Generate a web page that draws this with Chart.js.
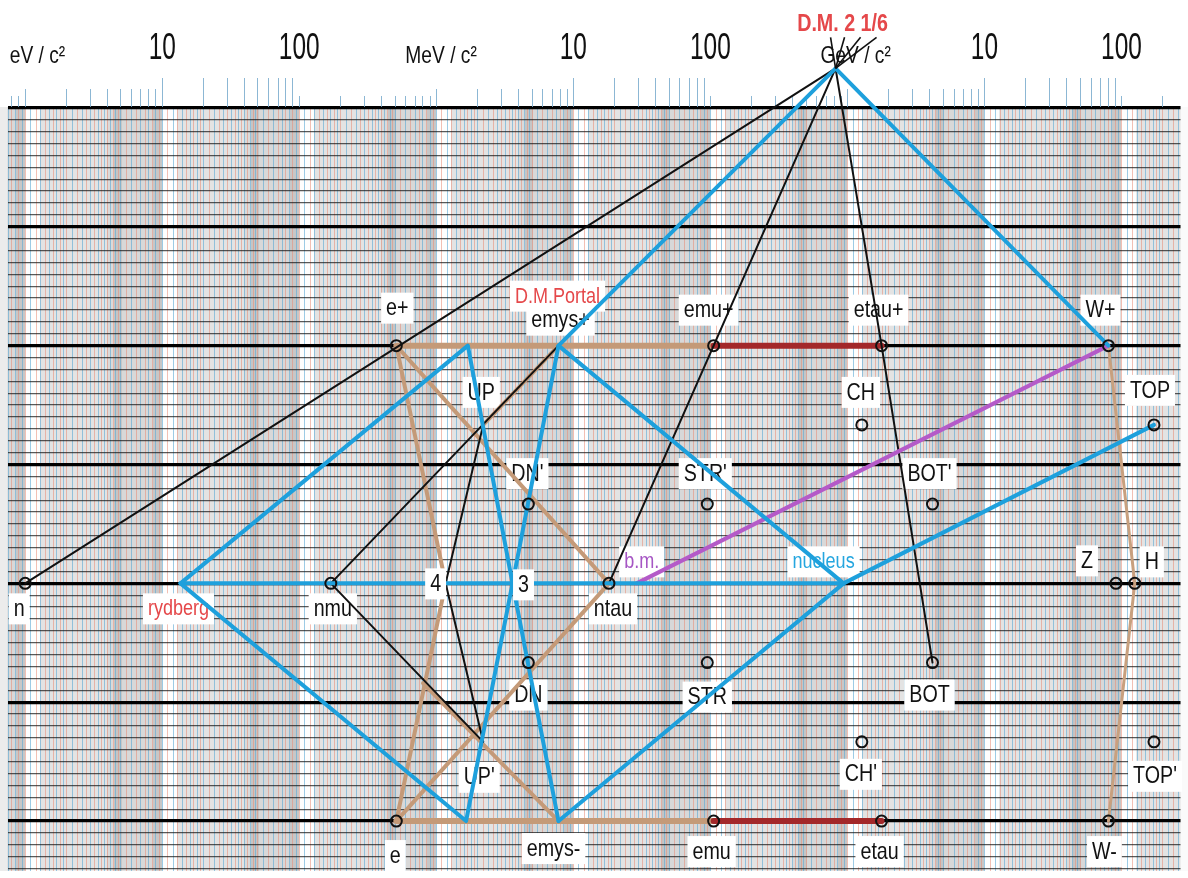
<!DOCTYPE html>
<html>
<head>
<meta charset="utf-8">
<script src="https://cdn.jsdelivr.net/npm/chart.js@4.4.1/dist/chart.umd.min.js"></script>
<style>
  html, body { margin: 0; padding: 0; background: #fff; }
  #wrap { width: 1188px; height: 878px; }
</style>
</head>
<body>
<div id="wrap"><canvas id="c" width="1188" height="878"></canvas></div>
<script>
// ---- particles: name, mass (MeV/c²), charge ----
const nodeNames  = ['D.M.', 'n', 'rydberg', 'nmu', '4', '3', 'ntau', 'b.m.', 'nucleus', 'Z', 'H',
                    'e+', 'emys+', 'emu+', 'etau+', 'W+',
                    'UP', 'CH', 'TOP', "DN'", "STR'", "BOT'",
                    'DN', 'STR', 'BOT', "UP'", "CH'", "TOP'",
                    'e', 'emys-', 'emu', 'etau', 'W-',
                    'v+', 'v-', 'j-'];
const nodeMass   = [820, 1e-6, 13.6e-6, 0.17, 1.17, 3.6, 18.2, 29, 938.3, 91188, 125100,
                    0.511, 7.8, 105.7, 1777, 80379,
                    2.2, 1275, 172760, 4.7, 95, 4180,
                    4.7, 95, 4180, 2.2, 1275, 172760,
                    0.511, 7.8, 105.7, 1777, 80379,
                    1.7, 1.65, 0.8];
const nodeCharge = [13 / 6, 0, 0, 0, 0, 0, 0, 0, 0, 0, 0,
                    1, 1, 1, 1, 1,
                    2 / 3, 2 / 3, 2 / 3, 1 / 3, 1 / 3, 1 / 3,
                    -1 / 3, -1 / 3, -1 / 3, -2 / 3, -2 / 3, -2 / 3,
                    -1, -1, -1, -1, -1,
                    1, -1, -0.42];

// ---- connections between particles ----
const blackPaths  = [['n', 'D.M.'], ['nmu', 'emys+', 'D.M.'], ['ntau', 'emu+', 'D.M.'], ['BOT', 'etau+', 'D.M.'],
                     ['UP', '4', "UP'"], ['nmu', "UP'"]];
const brownPaths  = [['e+', 'ntau'], ['e', 'ntau'], ['e+', '4', 'e'], ['emys+', 'UP'], ['emys-', 'j-']];
const brownRails  = [['e+', 'emys+', 'emu+'], ['e', 'emys-', 'emu']];
const brownThin   = [['W+', 'H', 'W-']];
const redPaths    = [['emu+', 'etau+'], ['emu', 'etau']];
const bluePaths   = [['D.M.', 'emys+'], ['D.M.', 'W+'], ['rydberg', 'v+', '3', 'emys-'], ['rydberg', 'v-', '3', 'emys+'],
                     ['rydberg', 'nucleus'], ['emys+', 'nucleus'], ['emys-', 'nucleus'], ['nucleus', 'TOP']];
const purplePaths = [['b.m.', 'W+']];
const circleNodes = ['n', 'nmu', 'ntau', 'e+', 'emu+', 'etau+', 'W+', 'CH', 'TOP', "DN'", "STR'", "BOT'",
                     'DN', 'STR', 'BOT', "CH'", "TOP'", 'e', 'emu', 'etau', 'W-', 'Z', 'H'];

// ---- text labels and the particle each one belongs to ----
const labelTexts   = ['e+', 'D.M.Portal', 'emys+', 'emu+', 'etau+', 'W+', 'UP', 'CH', 'TOP', "DN'", "STR'", "BOT'",
                      'n', 'rydberg', 'nmu', '4', '3', 'ntau', 'b.m.', 'nucleus', 'Z', 'H',
                      'DN', 'STR', 'BOT', "UP'", "CH'", "TOP'", 'e', 'emys-', 'emu', 'etau', 'W-', 'D.M. 2 1/6'];
const labelAnchors = ['e+', 'emys+', 'emys+', 'emu+', 'etau+', 'W+', 'UP', 'CH', 'TOP', "DN'", "STR'", "BOT'",
                      'n', 'rydberg', 'nmu', '4', '3', 'ntau', 'b.m.', 'nucleus', 'Z', 'H',
                      'DN', 'STR', 'BOT', "UP'", "CH'", "TOP'", 'e', 'emys-', 'emu', 'etau', 'W-', 'D.M.'];

// ---- mass axis tick labels ----
const topLabelText = ['eV / c²', '10', '100', 'MeV / c²', '10', '100', 'GeV / c²', '10', '100'];
const topLabelPos  = [0.09, 1, 2, 3.035, 4, 5, 6.06, 7, 8];

// ---------------------------------------------------------------------------
const FONT = '"Liberation Sans", Arial, sans-serif';
const NARROW = 0.82;               // horizontal squeeze for the condensed lettering
const X_MIN = -0.129, X_MAX = 8.431;
const Y_MIN = -1.208, Y_MAX = 2.004;

// label placement (pixel offsets from the particle) and colours
const labelStyle = {
  'e+': { off: [1, -38] }, 'D.M.Portal': { off: [-1, -50], color: '#e5484a', size: 22 }, 'emys+': { off: [2, -26] },
  'emu+': { off: [-5, -36] }, 'etau+': { off: [-3, -36] }, 'W+': { off: [-8, -36] },
  'UP': { off: [-2, -33] }, 'CH': { off: [-1, -33] }, 'TOP': { off: [-4, -35] },
  "DN'": { off: [-1, -31] }, "STR'": { off: [-2, -31] }, "BOT'": { off: [-3, -31] },
  'n': { off: [-6, 25] }, 'rydberg': { off: [-2, 25], color: '#e5484a', size: 22 }, 'nmu': { off: [2, 25] },
  '4': { off: [-10, 0], top: true }, '3': { off: [11, 1], top: true }, 'ntau': { off: [4, 25] },
  'b.m.': { off: [5, -22], color: '#a656c4', size: 22 }, 'nucleus': { off: [-20, -22], color: '#25a6df', size: 22 },
  'Z': { off: [-29, -23] }, 'H': { off: [17, -22] },
  'DN': { off: [0, 32] }, 'STR': { off: [0, 34] }, 'BOT': { off: [-3, 32] },
  "UP'": { off: [-4, 35] }, "CH'": { off: [-1, 32] }, "TOP'": { off: [1, 34] },
  'e': { off: [-1, 34] }, 'emys-': { off: [-5, 27] }, 'emu': { off: [-2, 30] }, 'etau': { off: [-2, 30] },
  'W-': { off: [-4, 30] },
  'D.M. 2 1/6': { off: [7, -45], color: '#e5484a', bold: true, top: true, box: false }
};

// mass -> position on the broken logarithmic axis (eV part, then keV..GeV part)
function pos(m) { return m >= 0.1 ? 3 + Math.log10(m) : 6 + Math.log10(m); }
function pt(name) { const i = nodeNames.indexOf(name); return { x: pos(nodeMass[i]), y: nodeCharge[i] }; }

function lineSets(paths, color, width, order) {
  return paths.map(p => ({
    data: p.map(pt), showLine: true, borderColor: color, borderWidth: width,
    pointRadius: 0, pointHoverRadius: 0, fill: false, tension: 0, clip: false, order,
    borderCapStyle: 'round', borderJoinStyle: 'round'
  }));
}

const datasets = [].concat(
  lineSets(brownRails, '#c49a78', 6, 6),
  lineSets(brownPaths, '#c49a78', 4, 5),
  lineSets(brownThin, '#c8a07e', 3, 5),
  lineSets(redPaths, '#a3282a', 6, 4),
  lineSets(blackPaths, '#111111', 2, 3),
  lineSets(purplePaths, '#b45ac8', 4, 2),
  lineSets(bluePaths, '#1ea0dc', 4, 1),
  [{
    data: circleNodes.map(pt), showLine: false, pointRadius: 5.5, pointHoverRadius: 5.5,
    pointBorderWidth: 2, pointBorderColor: '#111', pointBackgroundColor: 'rgba(0,0,0,0)',
    clip: false, order: 0
  }]
);

// ---- log-paper background: fine rulings and shaded bands in every decade ----
const fineSteps = [[1, 2, 0.1], [2, 5, 0.2], [5, 10, 0.5]];
const bandRel = [
  [0.00, 0.11, 'rgba(255,255,255,0.95)'],
  [0.11, 0.60, 'rgba(150,150,150,0.05)'],
  [0.60, 0.645, 'rgba(150,150,150,0.16)'],
  [0.645, 0.70, 'rgba(120,120,120,0.30)'],
  [0.70, 0.93, 'rgba(150,150,150,0.18)'],
  [0.93, 1.00, 'rgba(120,120,120,0.28)']
];
const PX_PER_DECADE = 1183 / (X_MAX - X_MIN);

function fineTicks() {
  const t = [];
  for (let d = -1; d <= 8; d++) {
    fineSteps.forEach(([a, b, s]) => {
      for (let v = a; v < b - 1e-9; v += s) {
        const p = d + Math.log10(v);
        if (p >= X_MIN && p <= X_MAX) t.push({ value: p });
      }
    });
  }
  return t.sort((a, b) => a.value - b.value);
}
const bandColors = [], bandWidths = [];
function bandTicks() {
  const t = [];
  bandColors.length = 0; bandWidths.length = 0;
  for (let d = -1; d <= 8; d++) {
    bandRel.forEach(([a, b, c]) => {
      const p = d + (a + b) / 2;
      if (p >= X_MIN - 0.1 && p <= X_MAX + 0.1) {
        t.push({ value: p }); bandColors.push(c); bandWidths.push((b - a) * PX_PER_DECADE);
      }
    });
  }
  return t;
}

function noSidePadding(s) { s.paddingLeft = 0; s.paddingRight = 0; }

// small rotated digits along the top edge, staggered in three rows
function subAxis(phase, tickLen) {
  return {
    type: 'linear', position: 'top', min: X_MIN, max: X_MAX, weight: 0,
    afterBuildTicks: s => {
      const t = [];
      for (let d = -1; d <= 8; d++) {
        if (((d % 3) + 3) % 3 !== phase) continue;
        for (let k = 1; k <= 9; k++) {
          const v = d + Math.log10(k);
          if (v >= X_MIN && v <= X_MAX) t.push({ value: v });
        }
      }
      s.ticks = t;
    },
    afterFit: s => { s.height = 0; noSidePadding(s); },
    border: { display: false },
    grid: { drawOnChartArea: false, drawTicks: true, tickLength: tickLen, tickColor: 'rgba(120,170,205,0.85)', tickWidth: 1 },
    ticks: {
      autoSkip: false, minRotation: 90, maxRotation: 90, padding: 1, color: '#666',
      font: { size: 7, family: FONT },
      callback: v => String(Math.round(Math.pow(10, v - Math.floor(v + 1e-9))))
    }
  };
}

// condensed lettering for the big mass labels: squeeze each label around its anchor
const topLabelSqueeze = [0.8, 0.66, 0.66, 0.8, 0.66, 0.66, 0.8, 0.66, 0.66];
function squeezeLabels(s) {
  if (s._squeezed) return;
  s._squeezed = true;
  const base = s.drawLabels.bind(s);
  s.drawLabels = function (area) {
    const ctx = this.ctx, tr = ctx.translate;
    let n = 0;
    ctx.translate = function (a, b) { tr.call(this, a, b); this.scale(topLabelSqueeze[n++] || 1, 1); };
    try { base(area); } finally { ctx.translate = tr; }
  };
}

const paperBackground = {
  id: 'paperBackground',
  beforeDraw(chart) {
    const { ctx, chartArea: a } = chart;
    ctx.save();
    ctx.fillStyle = '#ffffff';
    ctx.fillRect(0, 0, chart.width, chart.height);
    ctx.fillStyle = '#e7e7e7';
    ctx.fillRect(a.left, a.top, a.right - a.left, a.bottom - a.top);
    ctx.restore();
  }
};

function drawLabels(chart, onTop) {
  const { ctx, scales: { x, y } } = chart;
  labelTexts.forEach((t, i) => {
    const st = labelStyle[t] || { off: [0, 0] };
    if (!!st.top !== onTop) return;
    const p = pt(labelAnchors[i]);
    const px = x.getPixelForValue(p.x) + st.off[0];
    const py = y.getPixelForValue(p.y) + st.off[1];
    ctx.save();
    ctx.font = (st.bold ? 'bold ' : '') + (st.size || 24) + 'px ' + FONT;
    const w = ctx.measureText(t).width * NARROW;
    if (st.box !== false) {
      ctx.fillStyle = '#ffffff';
      ctx.fillRect(px - w / 2 - 5, py - 15, w + 10, 31);
    }
    ctx.translate(px, py + 1);
    ctx.scale(NARROW, 1);
    ctx.fillStyle = st.color || '#111';
    ctx.textAlign = 'center';
    ctx.textBaseline = 'middle';
    ctx.fillText(t, 0, 0);
    ctx.restore();
  });
}

const nodeLabels = {
  id: 'nodeLabels',
  beforeDatasetsDraw(chart) { drawLabels(chart, false); },
  afterDatasetsDraw(chart) { drawLabels(chart, true); },
  afterDraw(chart) {
    // pointer strokes from the D.M. caption down to its point
    const { ctx, scales: { x, y } } = chart;
    const p = pt('D.M.');
    const tx = x.getPixelForValue(p.x), ty = y.getPixelForValue(p.y);
    const st = labelStyle['D.M. 2 1/6'];
    const lx = tx + st.off[0], ly = ty + st.off[1];
    ctx.save();
    ctx.strokeStyle = '#111';
    ctx.lineWidth = 1.6;
    [-12, 2, 18, 34].forEach(dx => {
      ctx.beginPath();
      ctx.moveTo(lx + dx, ly + 14);
      ctx.lineTo(tx, ty);
      ctx.stroke();
    });
    ctx.restore();
  }
};

new Chart(document.getElementById('c'), {
  type: 'scatter',
  data: { datasets },
  plugins: [paperBackground, nodeLabels],
  options: {
    responsive: false, animation: false, devicePixelRatio: 1, events: [],
    layout: { padding: { left: 5, right: 0, top: 0, bottom: 0 } },
    plugins: { legend: { display: false }, tooltip: { enabled: false } },
    scales: {
      x: {
        type: 'linear', position: 'bottom', min: X_MIN, max: X_MAX,
        afterBuildTicks: s => { s.ticks = fineTicks(); },
        afterFit: s => { s.height = 0; noSidePadding(s); },
        ticks: { display: false }, border: { display: false },
        grid: { drawTicks: false, z: -3, lineWidth: 1,
                color: c => (c.index % 2 ? 'rgba(232,140,118,0.55)' : 'rgba(92,168,212,0.6)') }
      },
      xb: {
        type: 'linear', position: 'bottom', min: X_MIN, max: X_MAX,
        afterBuildTicks: s => { s.ticks = bandTicks(); },
        afterFit: s => { s.height = 0; noSidePadding(s); },
        ticks: { display: false }, border: { display: false },
        grid: { drawTicks: false, z: -4, color: c => bandColors[c.index], lineWidth: c => bandWidths[c.index] }
      },
      y: {
        type: 'linear', position: 'left', min: Y_MIN, max: Y_MAX,
        afterBuildTicks: s => { const t = []; for (let i = -24; i <= 40; i++) t.push({ value: i / 20 }); s.ticks = t; },
        afterFit: s => { s.width = 0; },
        ticks: { display: false }, border: { display: false },
        grid: {
          drawTicks: false, z: -2,
          color: c => (Math.round(c.tick.value * 20) % 10 === 0 ? '#000' : 'rgba(25,25,25,0.72)'),
          lineWidth: c => (Math.round(c.tick.value * 20) % 10 === 0 ? 3.2 : 1.3)
        }
      },
      xl: {
        type: 'linear', position: 'top', min: X_MIN, max: X_MAX, weight: 10,
        afterBuildTicks: s => { s.ticks = topLabelPos.map(v => ({ value: v })); },
        afterFit: s => { s.height = 107; noSidePadding(s); squeezeLabels(s); },
        border: { display: false },
        grid: { display: false, drawTicks: false },
        ticks: {
          autoSkip: false, maxRotation: 0, minRotation: 0, padding: 36, color: '#111',
          font: c => ({ family: FONT, size: c.index % 3 === 0 ? 24 : 37 }),
          callback: (v, i) => topLabelText[i]
        }
      },
      xs0: subAxis(0, 18),
      xs1: subAxis(1, 29),
      xs2: subAxis(2, 11)
    }
  }
});
</script>
</body>
</html>
